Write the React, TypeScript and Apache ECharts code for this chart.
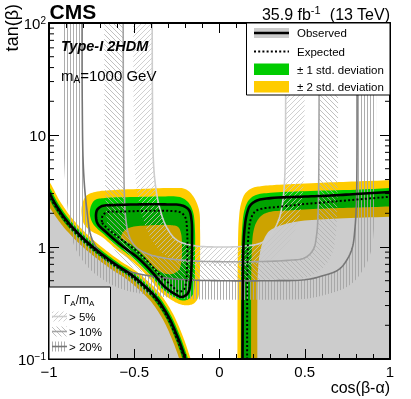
import React, { useEffect, useRef } from "react";
import * as echarts from "echarts";

// ---------------- axes ----------------
const X_MIN = -1;
const X_MAX = 1;
const X_STEP = 0.5;
const Y_MIN = 0.1;
const Y_MAX = 100;
const yMinorTicks = [0.2, 0.3, 0.4, 0.5, 0.6, 0.7, 0.8, 0.9, 2, 3, 4, 5, 6, 7, 8, 9, 20, 30, 40, 50, 60, 70, 80, 90];

// ---------------- bottom-left excluded region (cos, tanb) ----------------
const blP2 = [[-1.0, 3.9], [-0.977, 3.37], [-0.942, 2.66], [-0.877, 1.9], [-0.825, 1.54], [-0.757, 1.22], [-0.687, 0.99], [-0.587, 0.76], [-0.497, 0.62], [-0.417, 0.49], [-0.347, 0.38], [-0.277, 0.26], [-0.232, 0.185], [-0.202, 0.141], [-0.169, 0.1]];
const blP1 = [[-1.0, 3.49], [-0.988, 3.23], [-0.953, 2.55], [-0.888, 1.82], [-0.836, 1.48], [-0.768, 1.17], [-0.698, 0.95], [-0.598, 0.73], [-0.508, 0.594], [-0.428, 0.469], [-0.358, 0.365], [-0.288, 0.25], [-0.243, 0.177], [-0.213, 0.135], [-0.184, 0.1]];
const blObs = [[-1.0, 3.1], [-0.965, 2.45], [-0.9, 1.75], [-0.848, 1.42], [-0.78, 1.12], [-0.71, 0.91], [-0.61, 0.7], [-0.52, 0.57], [-0.44, 0.45], [-0.37, 0.35], [-0.3, 0.24], [-0.255, 0.17], [-0.225, 0.13], [-0.2, 0.1]];
const blExp = [[-1.0, 2.9], [-0.97, 2.41], [-0.906, 1.72], [-0.854, 1.4], [-0.786, 1.1], [-0.716, 0.895], [-0.616, 0.69], [-0.526, 0.561], [-0.446, 0.443], [-0.376, 0.344], [-0.306, 0.236], [-0.261, 0.167], [-0.231, 0.128], [-0.205, 0.1]];
const blM1 = [[-1.0, 2.73], [-0.978, 2.35], [-0.913, 1.68], [-0.861, 1.36], [-0.793, 1.07], [-0.723, 0.872], [-0.623, 0.671], [-0.533, 0.546], [-0.453, 0.431], [-0.383, 0.335], [-0.313, 0.23], [-0.268, 0.163], [-0.238, 0.125], [-0.217, 0.1]];
const blM2 = [[-1.0, 2.3], [-0.992, 2.2], [-0.927, 1.59], [-0.875, 1.29], [-0.807, 1.02], [-0.737, 0.828], [-0.637, 0.637], [-0.547, 0.519], [-0.467, 0.41], [-0.397, 0.319], [-0.327, 0.218], [-0.282, 0.155], [-0.252, 0.118], [-0.236, 0.1]];

// ---------------- bottom-right excluded region ----------------
const brP2 = [[0.105, 0.1], [0.106, 0.5], [0.108, 1.0], [0.113, 1.7], [0.125, 2.4], [0.15, 3.0], [0.19, 3.35], [0.25, 3.5], [0.35, 3.6], [0.6, 3.75], [0.8, 3.85], [1.0, 3.95]];
const brP1 = [[0.125, 0.1], [0.126, 0.5], [0.128, 1.0], [0.133, 1.5], [0.145, 2.1], [0.17, 2.6], [0.21, 2.9], [0.3, 3.05], [0.5, 3.15], [0.8, 3.25], [1.0, 3.36]];
const brObs = [[0.135, 0.1], [0.137, 0.5], [0.14, 1.0], [0.146, 1.4], [0.158, 1.9], [0.18, 2.35], [0.22, 2.6], [0.3, 2.73], [0.5, 2.82], [0.65, 2.88], [0.8, 2.97], [1.0, 3.1]];
const brExp = [[0.162, 0.1], [0.163, 0.5], [0.166, 1.0], [0.172, 1.4], [0.185, 1.8], [0.21, 2.08], [0.25, 2.2], [0.33, 2.27], [0.5, 2.42], [0.65, 2.53], [0.8, 2.65], [1.0, 2.81]];
const brM1 = [[0.185, 0.1], [0.186, 0.5], [0.19, 1.0], [0.198, 1.35], [0.215, 1.65], [0.245, 1.9], [0.29, 2.05], [0.4, 2.12], [0.6, 2.2], [0.8, 2.25], [1.0, 2.3]];
const brM2 = [[0.222, 0.1], [0.222, 0.3], [0.225, 0.6], [0.235, 0.85], [0.255, 1.12], [0.29, 1.38], [0.345, 1.53], [0.42, 1.65], [0.5, 1.72], [0.7, 1.8], [1.0, 1.86]];

// ---------------- island (closed contours) ----------------
const isP2 = [[-0.808, 1.93], [-0.806, 2.37], [-0.783, 2.85], [-0.73, 3.1], [-0.613, 3.23], [-0.466, 3.3], [-0.29, 3.36], [-0.202, 3.3], [-0.155, 2.85], [-0.12, 2.14], [-0.114, 1.42], [-0.114, 0.765], [-0.117, 0.458], [-0.126, 0.35], [-0.155, 0.31], [-0.196, 0.302], [-0.235, 0.31], [-0.279, 0.335], [-0.343, 0.396], [-0.419, 0.54], [-0.501, 0.72], [-0.601, 0.94], [-0.689, 1.23], [-0.754, 1.39], [-0.795, 1.6]];
const isP1 = [[-0.76, 1.93], [-0.754, 2.32], [-0.73, 2.63], [-0.672, 2.74], [-0.525, 2.79], [-0.349, 2.82], [-0.232, 2.79], [-0.185, 2.52], [-0.155, 2.05], [-0.144, 1.42], [-0.144, 0.765], [-0.146, 0.487], [-0.155, 0.38], [-0.185, 0.34], [-0.22, 0.333], [-0.255, 0.35], [-0.331, 0.417], [-0.408, 0.568], [-0.49, 0.757], [-0.589, 0.99], [-0.677, 1.29], [-0.74, 1.6]];
const isObs = [[-0.724, 1.815], [-0.718, 2.14], [-0.689, 2.32], [-0.613, 2.37], [-0.466, 2.4], [-0.32, 2.4], [-0.22, 2.35], [-0.179, 2.14], [-0.164, 1.74], [-0.161, 1.155], [-0.164, 0.69], [-0.17, 0.487], [-0.185, 0.388], [-0.22, 0.358], [-0.261, 0.38], [-0.32, 0.44], [-0.396, 0.598], [-0.478, 0.798], [-0.578, 1.04], [-0.666, 1.36], [-0.713, 1.6]];
const isExp = [[-0.689, 1.67], [-0.683, 1.93], [-0.654, 2.05], [-0.584, 2.07], [-0.437, 2.1], [-0.29, 2.1], [-0.226, 2.03], [-0.199, 1.815], [-0.191, 1.48], [-0.188, 1.04], [-0.191, 0.65], [-0.196, 0.477], [-0.211, 0.413], [-0.238, 0.4], [-0.279, 0.449], [-0.349, 0.562], [-0.419, 0.735], [-0.501, 0.96], [-0.595, 1.23], [-0.66, 1.48]];
const isM1 = [[-0.578, 1.2], [-0.56, 1.39], [-0.513, 1.51], [-0.408, 1.56], [-0.29, 1.57], [-0.243, 1.51], [-0.226, 1.33], [-0.22, 1.04], [-0.223, 0.765], [-0.238, 0.624], [-0.279, 0.574], [-0.331, 0.586], [-0.378, 0.649], [-0.449, 0.848], [-0.513, 1.04], [-0.56, 1.155]];

// ---------------- width contours Gamma_A/m_A ----------------
const width5 = [[-0.395, 120], [-0.393, 20], [-0.388, 6], [-0.375, 3.5], [-0.35, 2.2], [-0.31, 1.5], [-0.25, 1.15], [-0.15, 1.03], [0, 1.0], [0.15, 1.02], [0.25, 1.1], [0.31, 1.35], [0.35, 1.8], [0.37, 2.5], [0.382, 4], [0.387, 10], [0.388, 120]];
const width10 = [[-0.565, 120], [-0.563, 10], [-0.558, 3], [-0.55, 1.8], [-0.53, 1.25], [-0.49, 1.0], [-0.43, 0.88], [-0.33, 0.8], [-0.15, 0.75], [0, 0.74], [0.2, 0.74], [0.4, 0.76], [0.5, 0.8], [0.55, 0.95], [0.57, 1.3], [0.578, 2], [0.582, 4], [0.585, 120]];
const width20 = [[-0.806, 120], [-0.805, 20], [-0.798, 5], [-0.78, 2.3], [-0.75, 1.2], [-0.7, 0.9], [-0.65, 0.76], [-0.55, 0.62], [-0.4, 0.55], [-0.2, 0.51], [0, 0.5], [0.3, 0.5], [0.5, 0.51], [0.6, 0.55], [0.7, 0.63], [0.75, 0.78], [0.78, 1.0], [0.795, 1.5], [0.803, 2.5], [0.806, 5], [0.807, 120]];

const widthLabels = ["> 5%", "> 10%", "> 20%"];
const legendLabels = ["Observed", "Expected", "\u00B1 1 std. deviation", "\u00B1 2 std. deviation"];

// ---------------- style ----------------
const FONT = "Liberation Sans";
const YELLOW = "#ffcc00";
const GREEN = "#00cc00";
const SHADE = "rgba(0,0,0,0.2)";
const LINE5 = "#cdcdcd";
const LINE10 = "#a4a4a4";
const LINE20 = "#767676";
const HATCH_W = 19;

function hatch(kind: string, color: string): any {
  let svg = "";
  let w = 5;
  let h = 5;
  if (kind === "v") {
    w = 3;
    h = 3;
    svg = `<svg xmlns="http://www.w3.org/2000/svg" width="3" height="3"><line x1="1.5" y1="0" x2="1.5" y2="3" stroke="${color}" stroke-width="0.9"/></svg>`;
  } else if (kind === "f") {
    svg = `<svg xmlns="http://www.w3.org/2000/svg" width="5" height="5"><path d="M0,5 L5,0 M-1,1 L1,-1 M4,6 L6,4" stroke="${color}" stroke-width="0.8" fill="none"/></svg>`;
  } else {
    svg = `<svg xmlns="http://www.w3.org/2000/svg" width="5" height="5"><path d="M0,0 L5,5 M4,-1 L6,1 M-1,4 L1,6" stroke="${color}" stroke-width="0.8" fill="none"/></svg>`;
  }
  return {
    image: "data:image/svg+xml;charset=utf-8," + encodeURIComponent(svg),
    repeat: "repeat",
    imageWidth: w,
    imageHeight: h,
  };
}

const PAT5 = hatch("f", "#c4c4c4");
const PAT10 = hatch("b", "#b0b0b0");
const PAT20 = hatch("v", "#a4a4a4");

// centripetal Catmull-Rom smoothing in pixel space (rendering only)
function smoothPts(pts: number[][], closed: boolean, n = 8): number[][] {
  const N = pts.length;
  if (N < 3) return pts.slice();
  const ext = closed
    ? [pts[N - 1], ...pts, pts[0], pts[1]]
    : [
        [2 * pts[0][0] - pts[1][0], 2 * pts[0][1] - pts[1][1]],
        ...pts,
        [2 * pts[N - 1][0] - pts[N - 2][0], 2 * pts[N - 1][1] - pts[N - 2][1]],
      ];
  const out: number[][] = [];
  const segs = closed ? N : N - 1;
  const d = (a: number[], b: number[]) => Math.max(1e-3, Math.pow(Math.hypot(b[0] - a[0], b[1] - a[1]), 0.5));
  for (let i = 0; i < segs; i++) {
    const p0 = ext[i], p1 = ext[i + 1], p2 = ext[i + 2], p3 = ext[i + 3];
    const t0 = 0, t1 = t0 + d(p0, p1), t2 = t1 + d(p1, p2), t3 = t2 + d(p2, p3);
    for (let k = 0; k < n; k++) {
      const t = t1 + ((t2 - t1) * k) / n;
      const L = (a: number[], b: number[], ta: number, tb: number) => [
        ((tb - t) * a[0] + (t - ta) * b[0]) / (tb - ta),
        ((tb - t) * a[1] + (t - ta) * b[1]) / (tb - ta),
      ];
      const A1 = L(p0, p1, t0, t1), A2 = L(p1, p2, t1, t2), A3 = L(p2, p3, t2, t3);
      const B1 = L(A1, A2, t0, t2), B2 = L(A2, A3, t1, t3);
      out.push(L(B1, B2, t1, t2));
    }
  }
  if (!closed) out.push(pts[N - 1]);
  return out;
}

export default function App() {
  const ref = useRef<HTMLDivElement>(null);

  useEffect(() => {
    if (!ref.current) return;
    const chart = echarts.init(ref.current, null, { renderer: "svg" });

    const renderMain = (_params: any, api: any) => {
      const P = (arr: number[][]) => arr.map((d) => api.coord(d) as number[]);
      const els: any[] = [];
      const fillPoly = (pts: number[][], color: any) =>
        els.push({ type: "polygon", silent: true, shape: { points: pts }, style: { fill: color, stroke: null } });
      const strokeLine = (pts: number[][], color: string, w: number, dash?: number[], closed?: boolean) =>
        els.push({
          type: closed ? "polygon" : "polyline",
          silent: true,
          shape: { points: pts },
          style: { fill: null, stroke: color, lineWidth: w, lineDash: dash || null },
        });

      const blCurve = (arr: number[][]) => {
        const s = smoothPts(P(arr), false);
        const f = s[0], l = s[s.length - 1];
        return [[f[0] - 30, f[1]], ...s, [l[0], l[1] + 30]];
      };
      const blArea = (arr: number[][]) => {
        const c = blCurve(arr);
        const f = c[0], l = c[c.length - 1];
        return [...c, [f[0], l[1]]];
      };
      const brCurve = (arr: number[][]) => {
        const s = smoothPts(P(arr), false);
        const f = s[0], l = s[s.length - 1];
        return [[f[0], f[1] + 30], ...s, [l[0] + 30, l[1]]];
      };
      const brArea = (arr: number[][]) => {
        const c = brCurve(arr);
        const f = c[0], l = c[c.length - 1];
        return [...c, [l[0], f[1]]];
      };
      const isCurve = (arr: number[][]) => smoothPts(P(arr), true);

      fillPoly(blArea(blP2), YELLOW);
      fillPoly(brArea(brP2), YELLOW);
      fillPoly(isCurve(isP2), YELLOW);
      fillPoly(blArea(blP1), GREEN);
      fillPoly(brArea(brP1), GREEN);
      fillPoly(isCurve(isP1), GREEN);
      fillPoly(blArea(blM1), YELLOW);
      fillPoly(brArea(brM1), YELLOW);
      fillPoly(isCurve(isM1), YELLOW);
      fillPoly(blArea(blM2), "#ffffff");
      fillPoly(brArea(brM2), "#ffffff");

      fillPoly(blArea(blObs), SHADE);
      fillPoly(brArea(brObs), SHADE);
      fillPoly(isCurve(isObs), SHADE);

      const uCurve = (arr: number[][], pat: any) => {
        const s = smoothPts(P(arr), false, 10);
        const off = s.map((p, i) => {
          const a = s[Math.max(0, i - 1)], b = s[Math.min(s.length - 1, i + 1)];
          let dx = b[0] - a[0], dy = b[1] - a[1];
          const len = Math.hypot(dx, dy) || 1;
          dx /= len;
          dy /= len;
          return [p[0] - dy * HATCH_W, p[1] + dx * HATCH_W];
        });
        fillPoly([...s, ...off.reverse()], pat);
        return s;
      };
      const u5 = uCurve(width5, PAT5);
      const u10 = uCurve(width10, PAT10);
      const u20 = uCurve(width20, PAT20);
      strokeLine(u5, LINE5, 1.6);
      strokeLine(u10, LINE10, 1.6);
      strokeLine(u20, LINE20, 1.6);

      strokeLine(blCurve(blObs), "#000", 2.6);
      strokeLine(brCurve(brObs), "#000", 2.6);
      strokeLine(isCurve(isObs), "#000", 2.6, undefined, true);
      strokeLine(blCurve(blExp), "#000", 2, [2, 2.2]);
      strokeLine(brCurve(brExp), "#000", 2, [2, 2.2]);
      strokeLine(isCurve(isExp), "#000", 2, [2, 2.2], true);

      return { type: "group", children: els };
    };

    const renderTicks = (_params: any, api: any) => {
      const els: any[] = [];
      for (const v of yMinorTicks) {
        const a = api.coord([X_MIN, v]);
        const b = api.coord([X_MAX, v]);
        els.push({ type: "line", silent: true, shape: { x1: a[0], y1: a[1], x2: a[0] + 5, y2: a[1] }, style: { stroke: "#000", lineWidth: 1 } });
        els.push({ type: "line", silent: true, shape: { x1: b[0], y1: b[1], x2: b[0] - 5, y2: b[1] }, style: { stroke: "#000", lineWidth: 1 } });
      }
      return { type: "group", children: els };
    };

    const fmtX = (v: number) => (v === 0 ? "0" : v < 0 ? "\u2212" + Math.abs(v) : String(v));
    const fmtY = (v: number) => {
      const e = Math.round(Math.log10(v));
      if (e === 0) return "1";
      if (e === 1) return "10";
      return `{b|10}{p|${e < 0 ? "\u2212" : ""}${Math.abs(e)}}`;
    };

    const axisLineStyle = { show: true, onZero: false, lineStyle: { color: "#000", width: 2 } };
    const tickStyle = { show: true, inside: true, length: 10, lineStyle: { color: "#000", width: 1 } };

    const T = (x: number, y: number, style: any, extra: any = {}) => ({
      type: "text",
      x,
      y,
      z: 100,
      silent: true,
      ...extra,
      style: { fill: "#000", fontFamily: FONT, ...style },
    });
    const al = (h: string, v: string) => ({ align: h, verticalAlign: v, textAlign: h, textVerticalAlign: v });

    const legendRowsY = [33, 51.5, 69.5, 87];
    const widthRowsY = [316.5, 331.5, 346.5];
    const widthPats = [PAT5, PAT10, PAT20];
    const widthLines = [LINE5, LINE10, LINE20];

    const graphics: any[] = [
      T(49.5, 21.5, { text: "CMS", fontSize: 21, fontWeight: "bold", ...al("left", "bottom") }),
      T(390, 22, {
        text: "{a|35.9 fb}{s|-1}{a|  (13 TeV)}",
        ...al("right", "bottom"),
        rich: {
          a: { fontSize: 16, lineHeight: 18, fontFamily: FONT, fill: "#000", verticalAlign: "bottom" },
          s: { fontSize: 11, lineHeight: 11, fontFamily: FONT, fill: "#000", verticalAlign: "top" },
        },
      }),
      T(61, 45.5, { text: "Type-I 2HDM", fontSize: 14.5, fontWeight: "bold", fontStyle: "italic", ...al("left", "middle") }),
      T(61, 75, {
        text: "{a|m}{s|A}{a|=1000 GeV}",
        ...al("left", "middle"),
        rich: {
          a: { fontSize: 15, lineHeight: 18, fontFamily: FONT, fill: "#000" },
          s: { fontSize: 10, lineHeight: 10, fontFamily: FONT, fill: "#000", verticalAlign: "bottom" },
        },
      }),
      T(12, 4, { text: "tan(\u03B2)", fontSize: 18, ...al("right", "middle") }, { rotation: Math.PI / 2 }),
      T(390, 387, { text: "cos(\u03B2-\u03B1)", fontSize: 16, ...al("right", "middle") }),
      // top-right legend
      { type: "rect", z: 100, silent: true, shape: { x: 246.5, y: 23, width: 143.5, height: 72 }, style: { fill: "#fff", stroke: "#000", lineWidth: 1 } },
      { type: "rect", z: 101, silent: true, shape: { x: 254, y: legendRowsY[0] - 5, width: 35, height: 10 }, style: { fill: "#cccccc" } },
      { type: "line", z: 102, silent: true, shape: { x1: 254, y1: legendRowsY[0], x2: 289, y2: legendRowsY[0] }, style: { stroke: "#000", lineWidth: 2.6 } },
      { type: "line", z: 102, silent: true, shape: { x1: 254, y1: legendRowsY[1], x2: 289, y2: legendRowsY[1] }, style: { stroke: "#000", lineWidth: 2, lineDash: [2, 2.2] } },
      { type: "rect", z: 101, silent: true, shape: { x: 254, y: legendRowsY[2] - 6, width: 35, height: 11.5 }, style: { fill: GREEN } },
      { type: "rect", z: 101, silent: true, shape: { x: 254, y: legendRowsY[3] - 6, width: 35, height: 11.5 }, style: { fill: YELLOW } },
      ...legendLabels.map((s, i) => T(297, legendRowsY[i], { text: s, fontSize: 11.5, ...al("left", "middle") }, { z: 102 })),
      // bottom-left width legend
      { type: "rect", z: 100, silent: true, shape: { x: 49, y: 287, width: 61.5, height: 72 }, style: { fill: "#fff", stroke: "#000", lineWidth: 1 } },
      T(79, 300, {
        text: "{a|\u0393}{s|A}{a|/m}{s|A}",
        ...al("center", "middle"),
        rich: {
          a: { fontSize: 12, lineHeight: 15, fontFamily: FONT, fill: "#000" },
          s: { fontSize: 8, lineHeight: 8, fontFamily: FONT, fill: "#000", verticalAlign: "bottom" },
        },
      }, { z: 102 }),
      ...widthRowsY.flatMap((y, i) => [
        { type: "rect", z: 101, silent: true, shape: { x: 52, y: y - 5, width: 15, height: 10 }, style: { fill: widthPats[i] } },
        { type: "line", z: 102, silent: true, shape: { x1: 52, y1: y, x2: 67, y2: y }, style: { stroke: widthLines[i], lineWidth: 1.6 } },
        T(69, y, { text: widthLabels[i], fontSize: 11.5, ...al("left", "middle") }, { z: 102 }),
      ]),
    ];

    const option: any = {
      animation: false,
      textStyle: { fontFamily: FONT },
      grid: { left: 49, right: 21, top: 23, bottom: 40, containLabel: false },
      xAxis: [
        {
          type: "value",
          min: X_MIN,
          max: X_MAX,
          interval: X_STEP,
          position: "bottom",
          z: 10,
          axisLine: axisLineStyle,
          axisTick: tickStyle,
          minorTick: { show: true, splitNumber: 5, length: 5, lineStyle: { color: "#000", width: 1 } },
          splitLine: { show: false },
          minorSplitLine: { show: false },
          axisLabel: { show: true, margin: 5, fontSize: 15, color: "#000", fontFamily: FONT, formatter: fmtX, showMinLabel: true, showMaxLabel: true },
        },
        {
          type: "value",
          min: X_MIN,
          max: X_MAX,
          interval: X_STEP,
          position: "top",
          z: 10,
          axisLine: axisLineStyle,
          axisTick: tickStyle,
          minorTick: { show: true, splitNumber: 5, length: 5, lineStyle: { color: "#000", width: 1 } },
          splitLine: { show: false },
          axisLabel: { show: false },
        },
      ],
      yAxis: [
        {
          type: "log",
          logBase: 10,
          min: Y_MIN,
          max: Y_MAX,
          position: "left",
          z: 10,
          axisLine: axisLineStyle,
          axisTick: tickStyle,
          splitLine: { show: false },
          axisLabel: {
            show: true,
            margin: 3,
            fontSize: 15,
            color: "#000",
            fontFamily: FONT,
            formatter: fmtY,
            showMinLabel: true,
            showMaxLabel: true,
            rich: {
              b: { fontSize: 15, lineHeight: 15, padding: [6, 0, 0, 0], verticalAlign: "bottom", color: "#000", fontFamily: FONT },
              p: { fontSize: 10, lineHeight: 10, verticalAlign: "top", color: "#000", fontFamily: FONT },
            },
          },
        },
        {
          type: "log",
          logBase: 10,
          min: Y_MIN,
          max: Y_MAX,
          position: "right",
          z: 10,
          axisLine: axisLineStyle,
          axisTick: tickStyle,
          splitLine: { show: false },
          axisLabel: { show: false },
        },
      ],
      series: [
        { type: "custom", xAxisIndex: 0, yAxisIndex: 0, clip: true, z: 2, silent: true, data: [[0, 1]], renderItem: renderMain },
        { type: "custom", xAxisIndex: 0, yAxisIndex: 0, clip: false, z: 12, silent: true, data: [[0, 1]], renderItem: renderTicks },
      ],
      graphic: graphics,
    };

    chart.setOption(option);
    return () => chart.dispose();
  }, []);

  return <div ref={ref} style={{ position: "fixed", left: 0, top: 0, width: 411, height: 399 }} />;
}
